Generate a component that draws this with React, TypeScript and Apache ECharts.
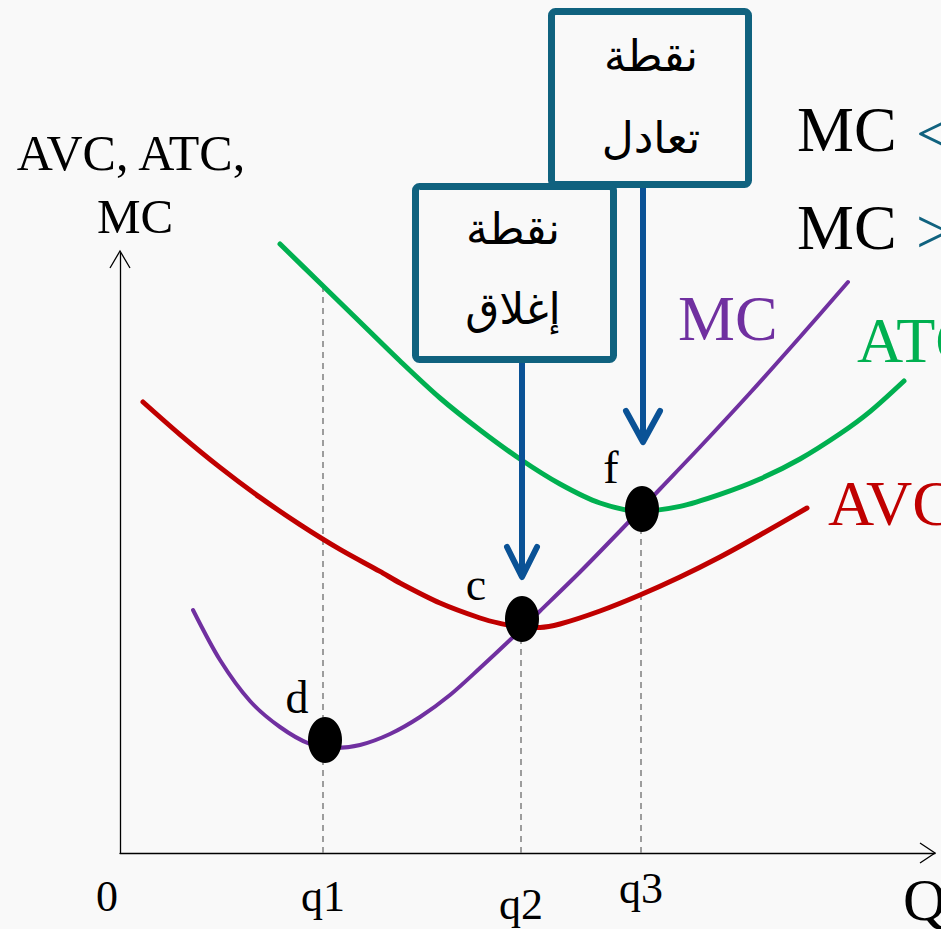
import React, { useEffect, useRef } from "react";
import * as echarts from "echarts";

// Quantity positions of q1, q2, q3 and their labels
const qLabels = ["q1", "q2", "q3"];
const qValues = [10.15, 20.05, 26.05];
// top of each dashed guide (cost level)
const guideTops = [28.55, 11.7, 17.2];

// Cost curves: [quantity, cost]
const mcCurve = [
  [3.65, 12.15], [5.0, 9.65], [6.5, 7.6], [8.0, 6.3], [9.5, 5.45], [10.75, 5.25],
  [12.0, 5.4], [13.5, 5.95], [15.0, 6.8], [16.5, 7.9], [18.0, 9.25], [19.5, 10.65],
  [21.0, 12.1], [23.0, 14.05], [25.0, 16.1], [27.0, 18.2], [29.0, 20.3], [31.5, 23.0],
  [34.0, 25.8], [36.4, 28.55],
];
const atcCurve = [
  [8.0, 30.45], [10.0, 28.5], [12.0, 26.55], [14.0, 24.6], [16.0, 22.75], [18.0, 21.15],
  [20.0, 19.7], [22.0, 18.45], [24.0, 17.5], [26.0, 17.1], [28.0, 17.33], [30.0, 17.93],
  [32.0, 18.7], [34.0, 19.7], [36.0, 20.96], [37.5, 22.07], [39.2, 23.6],
];
const avcCurve = [
  [1.15, 22.55], [3.0, 20.92], [5.0, 19.28], [7.0, 17.78], [9.0, 16.42], [11.0, 15.18],
  [13.0, 14.08], [14.0, 13.5], [16.0, 12.5], [18.0, 11.75], [19.0, 11.48], [20.0, 11.3],
  [21.0, 11.28], [22.0, 11.45], [24.0, 12.1], [26.0, 12.9], [28.0, 13.8], [30.0, 14.8],
  [32.0, 15.9], [34.35, 17.25],
];

// Key points
const pointNames = ["d", "c", "f"];
const pointValues = [[10.25, 5.65], [20.1, 11.7], [26.1, 17.2]];
const pointLabelOffsets = [[-28, -43], [-46, -35], [-31, -42]];

const X_MAX = 40.75;
const Y_MAX = 30;

const SERIF = '"Liberation Serif", "DejaVu Serif", serif';
const ARABIC = '"DejaVu Sans", "Noto Sans", sans-serif';
const BOX_COLOR = "#10627F";
const ARROW_COLOR = "#0A5296";

export default function App() {
  const ref = useRef<HTMLDivElement>(null);

  useEffect(() => {
    if (!ref.current) return;
    const chart = echarts.init(ref.current, null, { renderer: "svg" });

    const guideSeries = qValues.map((q, i) => ({
      type: "line",
      data: [[q, 0], [q, guideTops[i]]],
      showSymbol: false,
      silent: true,
      clip: false,
      z: 1,
      lineStyle: { color: "#7f7f7f", width: 1.5, type: [6, 5] },
    }));

    const curve = (data: number[][], color: string, width: number) => ({
      type: "line",
      data,
      smooth: 0.3,
      showSymbol: false,
      clip: false,
      z: 3,
      lineStyle: { color, width, cap: "round" },
    });

    chart.setOption({
      animation: false,
      backgroundColor: "#f9f9f9",
      grid: { left: 120, right: 941 - 120 - X_MAX * 20, top: 853 - Y_MAX * 20, bottom: 76 },
      xAxis: {
        type: "value", min: 0, max: X_MAX,
        axisLine: { show: true, lineStyle: { color: "#000", width: 1.3 } },
        axisTick: { show: false }, axisLabel: { show: false }, splitLine: { show: false },
      },
      yAxis: {
        type: "value", min: 0, max: Y_MAX,
        axisLine: { show: true, lineStyle: { color: "#000", width: 1.3 } },
        axisTick: { show: false }, axisLabel: { show: false }, splitLine: { show: false },
      },
      series: [
        ...guideSeries,
        curve(atcCurve, "#00B050", 5),
        curve(avcCurve, "#C00000", 5),
        curve(mcCurve, "#7030A0", 4),
        {
          type: "scatter",
          z: 5,
          symbol: "circle",
          symbolSize: [34, 46],
          itemStyle: { color: "#000", opacity: 1 },
          data: pointValues.map((v, i) => ({
            value: v,
            name: pointNames[i],
            label: {
              show: true,
              position: "inside",
              offset: pointLabelOffsets[i],
              formatter: "{b}",
              color: "#000",
              fontFamily: SERIF,
              fontSize: 46,
            },
          })),
        },
      ],
    });

    const px = (p: number[]) => chart.convertToPixel({ gridIndex: 0 }, p) as number[];
    const origin = px([0, 0]);
    const yEnd = px([0, Y_MAX]);
    const xEnd = px([X_MAX, 0]);
    const fPx = px(pointValues[2]);
    const cPx = px(pointValues[1]);

    const text = (x: number, y: number, t: string, size: number, color: string, align = "left", family = SERIF) => ({
      type: "text",
      x, y,
      z: 20,
      style: { text: t, fontSize: size, fill: color, fontFamily: family, align, verticalAlign: "middle" },
    });

    const arrow = (x: number, yTop: number, yTip: number, half: number, back: number) => [
      { type: "line", z: 15, shape: { x1: x, y1: yTop, x2: x, y2: yTip - 2 }, style: { stroke: ARROW_COLOR, lineWidth: 6 } },
      {
        type: "polyline", z: 15,
        shape: { points: [[x - half, yTip - back], [x, yTip], [x + half, yTip - back]] },
        style: { stroke: ARROW_COLOR, lineWidth: 6, fill: "none", lineCap: "round", lineJoin: "round" },
      },
    ];

    const qLabelDy = [896, 904, 888];

    chart.setOption({
      graphic: [
        // axis arrow heads
        {
          type: "polyline", z: 10,
          shape: { points: [[yEnd[0] - 10, yEnd[1] + 15], [yEnd[0], yEnd[1] - 2], [yEnd[0] + 10, yEnd[1] + 15]] },
          style: { stroke: "#000", lineWidth: 1.3, fill: "none" },
        },
        {
          type: "polyline", z: 10,
          shape: { points: [[xEnd[0] - 15, xEnd[1] - 10], [xEnd[0], xEnd[1]], [xEnd[0] - 15, xEnd[1] + 10]] },
          style: { stroke: "#000", lineWidth: 1.3, fill: "none" },
        },
        // axis titles
        text(131, 153, "AVC, ATC,", 50, "#000", "center"),
        text(135, 216, "MC", 49, "#000", "center"),
        text(origin[0] - 13, 896, "0", 44, "#000", "center"),
        ...qLabels.map((l, i) => text(px([qValues[i], 0])[0], qLabelDy[i], l, 44, "#000", "center")),
        text(903, 900, "Q", 60, "#000", "left"),
        // curve names
        text(678, 318, "MC", 64, "#7030A0"),
        text(857, 340, "ATC", 64, "#00B050"),
        text(828, 503, "AVC", 64, "#C00000"),
        // conditions at top right
        text(797, 129, "MC", 64, "#000"),
        text(916, 133, "<", 64, BOX_COLOR),
        text(797, 227, "MC", 64, "#000"),
        text(916, 231, ">", 64, BOX_COLOR),
        // boxes
        {
          type: "rect", z: 12,
          shape: { x: 551.5, y: 11.5, width: 197, height: 173, r: 4 },
          style: { fill: "none", stroke: BOX_COLOR, lineWidth: 7 },
        },
        {
          type: "rect", z: 12,
          shape: { x: 415.5, y: 186.5, width: 198, height: 173, r: 4 },
          style: { fill: "none", stroke: BOX_COLOR, lineWidth: 7 },
        },
        text(651, 55, "نقطة", 44, "#000", "center", ARABIC),
        text(651, 137, "تعادل", 44, "#000", "center", ARABIC),
        text(513, 228, "نقطة", 44, "#000", "center", ARABIC),
        text(513, 308, "إغلاق", 44, "#000", "center", ARABIC),
        // arrows from boxes to points
        ...arrow(fPx[0] + 1, 188, fPx[1] - 67, 17, 31),
        ...arrow(cPx[0], 363, cPx[1] - 42, 15, 30),
      ],
    });

    return () => chart.dispose();
  }, []);

  return (
    <div
      ref={ref}
      style={{ position: "absolute", left: 0, top: 0, width: 941, height: 929 }}
    />
  );
}
